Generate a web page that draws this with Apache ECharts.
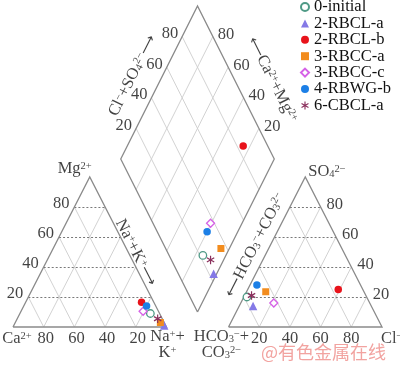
<!DOCTYPE html>
<html><head><meta charset="utf-8">
<script src="https://cdn.jsdelivr.net/npm/echarts@6/dist/echarts.min.js"></script>
<style>html,body{margin:0;padding:0;background:#fff}#c{width:400px;height:368px}</style>
</head><body><div id="c"></div>
<script>
// ---------------- data (percent) ----------------
const sampleNames = ['0-initial','2-RBCL-a','2-RBCL-b','3-RBCC-a','3-RBCC-c','4-RBWG-b','6-CBCL-a'];
const caPct   = [6, 1, 8, 2.5, 10, 6, 3];
const mgPct   = [9, 1, 16.5, 3, 10.5, 14, 5.5];
const naKPct  = [85, 98, 75.5, 94.5, 79.5, 80, 91.5];
const hco3Pct = [78, 77, 16, 64, 62.5, 67.5, 74.5];
const so4Pct  = [20, 14, 25, 23.5, 16, 28, 21];
const clPct   = [2, 9, 59, 12.5, 21.5, 4.5, 4.5];
const tickValues = [20, 40, 60, 80];

// ---------------- styles ----------------
const STAR = 'path://M-0.7,-5L0.7,-5L0.7,5L-0.7,5ZM3.98,-3.106L4.68,-1.894L-3.98,3.106L-4.68,1.894ZM4.68,1.894L3.98,3.106L-4.68,-1.894L-3.98,-3.106Z';
const sampleSymbols = ['circle','triangle','circle','rect','diamond','circle', STAR];
const sampleColors  = ['#4f9a86','#8479e6','#e8131b','#f28c1e','#d561e6','#1c7fe6','#8a2f5c'];
const sampleHollow  = [true,false,false,false,true,false,false];
const sampleSizes   = [7.5, 8.5, 7.5, 7, 8, 7.5, 8.5];
const F  = '"Liberation Serif","Times New Roman",serif';
const AF = '"DejaVu Sans",sans-serif';
const FS = 16.5;

// ---------------- layout (data space -> pixels) ----------------
const W = 400, H = 368;
const SX = 1.535, SY = 1.5, OX = 13, OY = 327;
const GAP = 40.4;
const DB = [100 + GAP / 2, 10], DW = 50, DH = 102;

const leftPt  = (nak, mg) => [100 * nak + 50 * mg, 100 * mg];
const rightPt = (cl, so4) => [100 + GAP + 100 * cl + 50 * so4, 100 * so4];
const diaPt   = (cm, cs) => [DB[0] - DW * cm + DW * cs, DB[1] + DH * (cm + cs)];
const pxOff = (p, dx, dy) => [p[0] + dx / SX, p[1] - dy / SY];

// ---------------- frame lines ----------------
const seg = (a, b) => ({ coords: [a, b] });
const light = [], dash = [];
tickValues.forEach(t => {
  const v = t / 100;
  dash.push(seg(leftPt(0, v), leftPt(1 - v, v)));
  light.push(seg(leftPt(v, 0), leftPt(v, 1 - v)));
  light.push(seg(leftPt(1 - v, 0), leftPt(0, 1 - v)));
  dash.push(seg(rightPt(0, v), rightPt(1 - v, v)));
  light.push(seg(rightPt(v, 0), rightPt(v, 1 - v)));
  light.push(seg(rightPt(1 - v, 0), rightPt(0, 1 - v)));
  light.push(seg(diaPt(v, 0), diaPt(v, 1)));
  light.push(seg(diaPt(0, v), diaPt(1, v)));
});
const outline = [
  { coords: [leftPt(0,0), leftPt(1,0), leftPt(0,1), leftPt(0,0)] },
  { coords: [rightPt(0,0), rightPt(1,0), rightPt(0,1), rightPt(0,0)] },
  { coords: [diaPt(0,0), diaPt(1,0), diaPt(1,1), diaPt(0,1), diaPt(0,0)] }
];

// ---------------- text labels ----------------
const rich = {
  n: { fontFamily: F, fontSize: FS, color: '#111', lineHeight: 16 },
  p: { fontFamily: F, fontSize: 10.5, color: '#111', lineHeight: 8, verticalAlign: 'top' },
  s: { fontFamily: F, fontSize: 10.5, color: '#111', lineHeight: 8, verticalAlign: 'bottom' },
  r: { fontFamily: AF, fontSize: 14, color: '#111', lineHeight: 16 }
};
const labels = [];
function lab(pt, dx, dy, txt, align, rotate) {
  labels.push({ value: pxOff(pt, dx, dy), txt: txt,
    label: { align: align || 'center', verticalAlign: 'middle', rotate: rotate || 0 } });
}
tickValues.forEach(t => {
  const v = t / 100;
  lab(leftPt(0, v), -5, -3, '{n|' + t + '}', 'right');
  lab(leftPt(1 - v, 0), 2, 12, '{n|' + t + '}');
  lab(rightPt(1 - v, v), 6, -2, '{n|' + t + '}', 'left');
  lab(rightPt(v, 0), 0, 12, '{n|' + t + '}');
  lab(diaPt(1, v), -4, -3, '{n|' + t + '}', 'right');
  lab(diaPt(v, 1), 5, -2, '{n|' + t + '}', 'left');
});
lab(leftPt(0, 0), 4, 12, '{n|Ca}{p|2+}');
lab(leftPt(1, 0), 1, 18, '{n|Na}{p|+}{n|+}\n{n|K}{p|+}');
lab(leftPt(0, 1), 2, -8, '{n|Mg}{p|2+}', 'right');
lab(rightPt(0, 1), 3, -5, '{n|SO}{s|4}{p|2−}', 'left');
lab(rightPt(0, 0), -7, 18, '{n|HCO}{s|3}{p|−}{n|+}\n{n|CO}{s|3}{p|2−}');
lab(rightPt(1, 0), -1, 12, '{n|Cl}{p|−}', 'left');
lab(leftPt(0.503, 0.497), 7.5, 0, '{n|Na}{p|+}{n|+K}{p|+}{r|⟶}', 'center', -63);
lab(rightPt(0, 0.547), -15.4, 0, '{r|⟵}{n|HCO}{s|3}{p|−}{n|+CO}{s|3}{p|2−}', 'center', 63);
lab(diaPt(1, 0.545), -30, 0, '{n|Cl}{p|−}{n|+SO}{s|4}{p|2−}{r|⟶}', 'center', 63.4);
lab(diaPt(0.519, 1), 38, 0, '{r|⟵}{n|Ca}{p|2+}{n|+Mg}{p|2+}', 'center', -63.4);

// ---------------- series ----------------
const series = [
  { type: 'lines', coordinateSystem: 'cartesian2d', polyline: false, silent: true, z: 1,
    data: light, lineStyle: { color: '#cdcdcd', width: 0.9, opacity: 1 } },
  { type: 'lines', coordinateSystem: 'cartesian2d', polyline: false, silent: true, z: 2,
    data: dash, lineStyle: { color: '#6a6a6a', width: 0.9, opacity: 1, type: [2, 2] } },
  { type: 'lines', coordinateSystem: 'cartesian2d', polyline: true, silent: true, z: 3,
    data: outline, lineStyle: { color: '#8a8a8a', width: 1.3, opacity: 1 } },
  { type: 'scatter', name: '_labels', silent: true, z: 4, symbolSize: 1,
    itemStyle: { color: 'transparent' }, data: labels,
    label: { show: true, position: [0.5, 0.5], formatter: p => p.data.txt, rich: rich } }
];
sampleNames.forEach((name, i) => {
  const cm = (caPct[i] + mgPct[i]) / 100, cs = (so4Pct[i] + clPct[i]) / 100;
  series.push({
    type: 'scatter', name: name, z: 10, symbol: sampleSymbols[i], symbolSize: sampleSizes[i],
    symbolKeepAspect: true,
    itemStyle: sampleHollow[i]
      ? { color: '#fff', borderColor: sampleColors[i], borderWidth: 1.3, opacity: 1 }
      : { color: sampleColors[i], opacity: 1 },
    data: [
      leftPt(naKPct[i] / 100, mgPct[i] / 100),
      rightPt(clPct[i] / 100, so4Pct[i] / 100),
      diaPt(cm, cs)
    ]
  });
});

const chart = echarts.init(document.getElementById('c'), null, { renderer: 'canvas' });
chart.setOption({
  animation: false,
  backgroundColor: '#fff',
  grid: { left: 0, right: 0, top: 0, bottom: 0 },
  xAxis: { type: 'value', min: -OX / SX, max: (W - OX) / SX, show: false },
  yAxis: { type: 'value', min: -(H - OY) / SY, max: OY / SY, show: false },
  legend: {
    data: sampleNames, orient: 'vertical', left: 300, top: -1.5, padding: 0,
    itemWidth: 8, itemHeight: 8, itemGap: -0.6,
    textStyle: { fontFamily: F, fontSize: FS, color: '#111' }
  },
  graphic: [{ type: 'text', left: 261, top: 343,
    style: { text: '@有色金属在线', fill: '#f2a3a0', font: '18px "Noto Sans CJK SC"' } }],
  series: series
});
</script></body></html>
